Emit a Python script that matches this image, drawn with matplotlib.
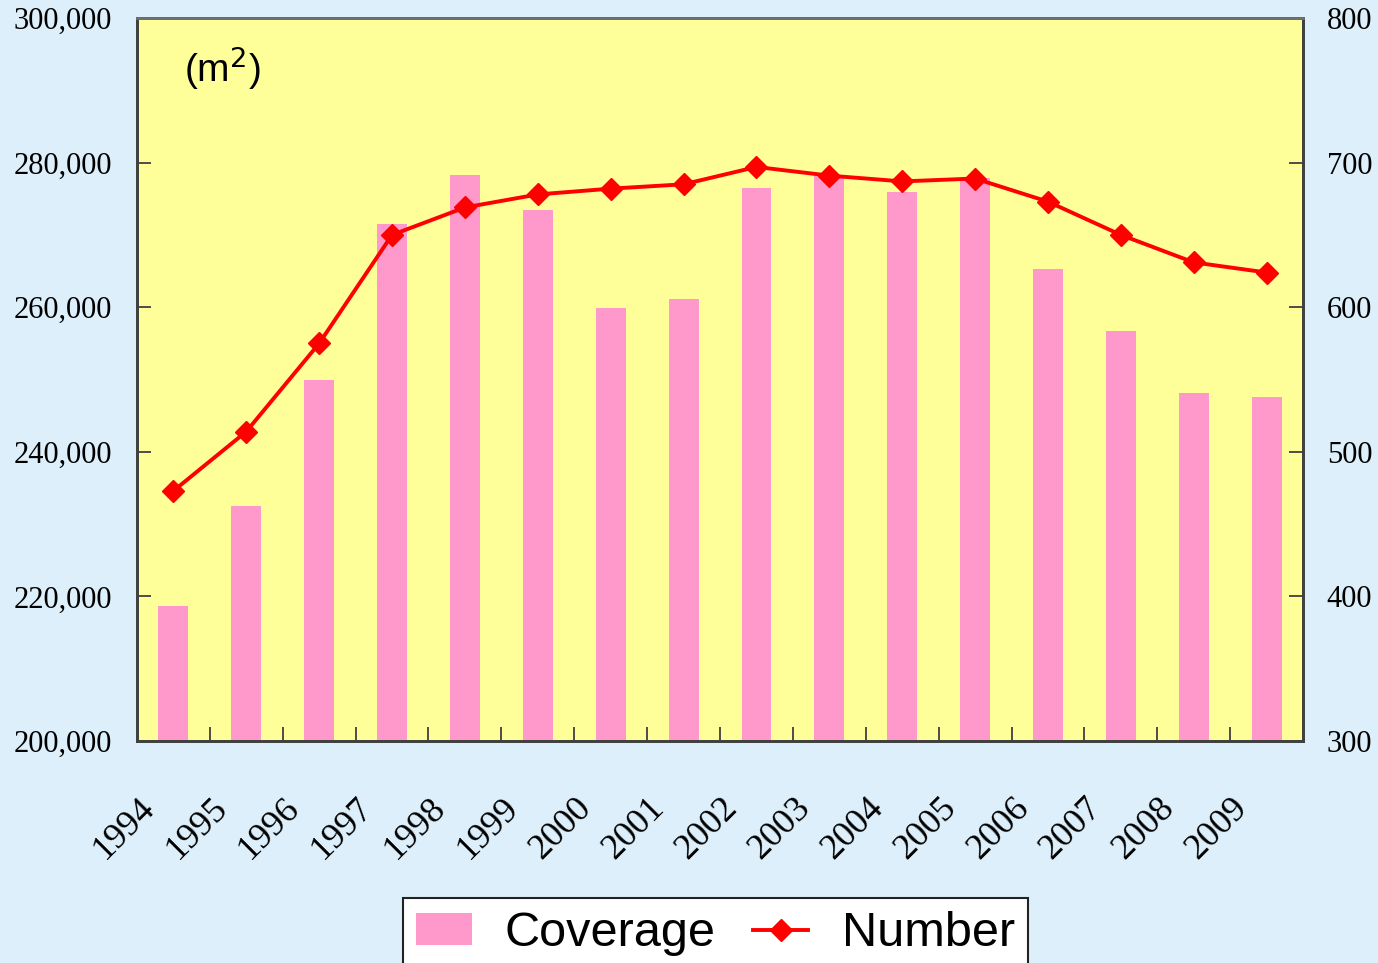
import matplotlib
matplotlib.use('Agg')
import matplotlib.pyplot as plt
from matplotlib.ticker import FuncFormatter
from matplotlib.transforms import ScaledTranslation

years = ['1994', '1995', '1996', '1997', '1998', '1999', '2000', '2001',
         '2002', '2003', '2004', '2005', '2006', '2007', '2008', '2009']
coverage = [218700, 232500, 249900, 271500, 278300, 273400, 259900, 261100,
            276500, 278100, 275900, 277900, 265300, 256700, 248100, 247600]
number = [473, 514, 575, 650, 669, 678, 682, 685,
          697, 691, 687, 689, 673, 650, 631, 624]

left_ticks = [200000, 220000, 240000, 260000, 280000, 300000]
right_ticks = [300, 400, 500, 600, 700, 800]

fig = plt.figure(figsize=(13.78, 9.63), dpi=100, facecolor='#DDEFFA')
ax = fig.add_axes([0.0994, 0.2305, 0.8462, 0.7508])
ax.set_facecolor('#FFFF99')

x = list(range(len(years)))
bars = ax.bar(x, coverage, width=0.41, color='#FF99CC', label='Coverage', zorder=2)
ax.set_xlim(-0.5, len(years) - 0.5)
ax.set_ylim(200000, 300000)
ax.set_yticks(left_ticks)
ax.yaxis.set_major_formatter(FuncFormatter(lambda v, p: '{:,.0f}'.format(v)))

ax2 = ax.twinx()
line, = ax2.plot(x, number, '-D', color='#FF0000', linewidth=2.8, markersize=11,
                 label='Number', zorder=3)
ax2.set_ylim(300, 800)
ax2.set_yticks(right_ticks)

# x ticks sit on category boundaries, labels on the centres
ax.set_xticks([i + 0.5 for i in x[:-1]])
ax.set_xticklabels([])
ax.set_xticks(x, minor=True)
ax.set_xticklabels(years, minor=True, rotation=45, ha='right', va='center',
                   rotation_mode='anchor', fontsize=26, family='Liberation Serif')
ax.tick_params(axis='x', which='minor', length=0, pad=0)
shift = ScaledTranslation(-24 / 100, -62 / 100, fig.dpi_scale_trans)
for lab in ax.get_xticklabels(minor=True):
    lab.set_transform(lab.get_transform() + shift)
ax.tick_params(axis='x', which='major', direction='in', length=10, width=1.3, color='#404040')

ax.tick_params(axis='y', direction='in', length=10, width=1.3, color='#404040', pad=18)
ax2.tick_params(axis='y', direction='in', length=10, width=1.3, color='#404040', pad=17)
for lab in ax.get_yticklabels() + ax2.get_yticklabels():
    lab.set_fontsize(22)
    lab.set_family('Liberation Serif')

for a in (ax, ax2):
    for s in a.spines.values():
        s.set_color('#404040')
        s.set_linewidth(2)
ax2.spines['top'].set_color('#707070')

ax.text(0.04, 0.93, '(m$^2$)', transform=ax.transAxes, fontsize=28,
        family='Liberation Sans', va='center', ha='left')

leg = fig.legend([bars, line], ['Coverage', 'Number'], loc='upper center',
                 bbox_to_anchor=(0.519, 0.0675), ncol=2, frameon=True,
                 fancybox=False, edgecolor='#222222', facecolor='white', framealpha=1,
                 prop={'family': 'Liberation Sans', 'size': 35},
                 handlelength=1.15, handleheight=0.62, columnspacing=0.76,
                 handletextpad=0.68, borderpad=0.27, borderaxespad=0)
leg.get_frame().set_linewidth(1.5)

fig.savefig('out.png', dpi=100, facecolor=fig.get_facecolor())
